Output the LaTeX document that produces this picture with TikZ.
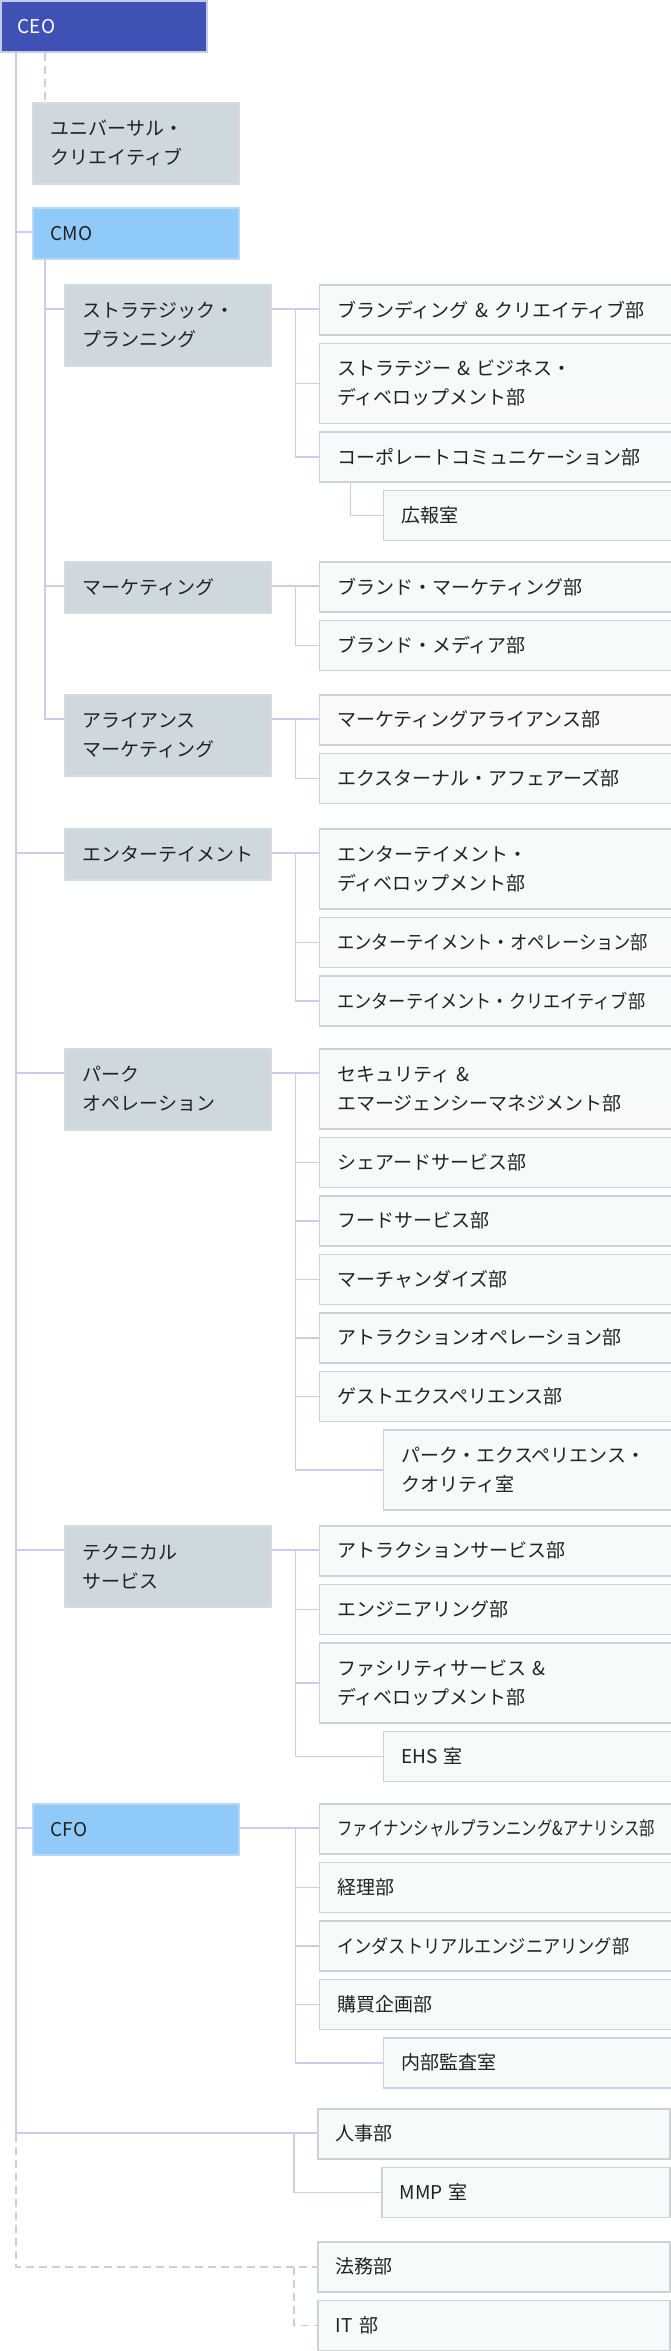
\documentclass[tikz,border=0pt]{standalone}
\usepackage{fontspec}
\usepackage{graphicx}
\setmainfont{Noto Sans CJK JP}
\usetikzlibrary{positioning}

\definecolor{ceoblue}{HTML}{3F51B5}
\definecolor{ceoedge}{HTML}{C5CAE9}
\definecolor{chiefblue}{HTML}{90CAF9}
\definecolor{chiefedge}{HTML}{B8D8F5}
\definecolor{unitgray}{HTML}{CFD8DC}
\definecolor{unitedge}{HTML}{D5DCDF}
\definecolor{deptfill}{HTML}{F8F9F9}
\definecolor{deptedge}{HTML}{CAD3D7}
\definecolor{wire}{HTML}{C9CCEA}
\definecolor{ink}{HTML}{222222}

% squeeze a long label to the given width
\newcommand\fitto[2]{\resizebox{#1}{\height}{#2}}

\begin{document}
\begin{tikzpicture}[x=1pt, y=-1pt]
    \tikzset{
        box/.style={anchor=north west, line width=1.5pt, inner xsep=18pt, inner ysep=0pt,
            align=left, text=ink, font=\fontsize{19}{29}\selectfont},
        ceobox/.style={box, fill=ceoblue, draw=ceoedge, text=white, inner xsep=17pt,
            text width=172pt, minimum height=51pt},
        chief/.style={box, fill=chiefblue, draw=chiefedge, text width=170pt, minimum height=51pt},
        unit/.style={box, fill=unitgray, draw=unitedge, text width=170pt, minimum height=51pt},
        unit2/.style={unit, minimum height=81pt},
        dept/.style={box, fill=deptfill, draw=deptedge, text width=316pt, minimum height=50pt},
        dept2/.style={dept, minimum height=80pt},
        office/.style={dept, text width=252pt},
        office2/.style={office, minimum height=80pt},
        stack/.style={below right=7pt and 0pt of #1.south west},
        sub/.style={below right=7pt and 64pt of #1.south west},
        link/.style={draw=wire, line width=1.5pt},
        duty/.style={link, dash pattern=on 8pt off 5pt}
    }
    \useasboundingbox (0,0) rectangle (670,2351);

    \node[ceobox] (ceo) at (0,0) {CEO};
    \node[unit2] (univ) at (32,102) {ユニバーサル・\\クリエイティブ};
    \node[chief] (cmo) at (32,207) {CMO};

    \node[unit2] (strat) at (64,284) {ストラテジック・\\プランニング};
    \node[dept] (brand) [below right=0pt and 47pt of strat.north east] {ブランディング \& クリエイティブ部};
    \node[dept2] (bizdev) [stack=brand] {ストラテジー \& ビジネス・\\ディベロップメント部};
    \node[dept] (corpcom) [stack=bizdev] {コーポレートコミュニケーション部};
    \node[office] (pr) [sub=corpcom] {広報室};

    \node[unit] (mkt) at (64,561) {マーケティング};
    \node[dept] (brandmkt) [below right=0pt and 47pt of mkt.north east] {ブランド・マーケティング部};
    \node[dept] (brandmedia) [stack=brandmkt] {ブランド・メディア部};

    \node[unit2] (ally) at (64,694) {アライアンス\\マーケティング};
    \node[dept] (mktally) [below right=0pt and 47pt of ally.north east] {マーケティングアライアンス部};
    \node[dept] (extaff) [stack=mktally] {エクスターナル・アフェアーズ部};

    \node[unit] (ent) at (64,828) {エンターテイメント};
    \node[dept2] (entdev) [below right=0pt and 47pt of ent.north east] {エンターテイメント・\\ディベロップメント部};
    \node[dept] (entops) [stack=entdev] {\fitto{311pt}{エンターテイメント・オペレーション部}};
    \node[dept] (entcre) [stack=entops] {\fitto{308pt}{エンターテイメント・クリエイティブ部}};

    \node[unit2] (park) at (64,1048) {パーク\\オペレーション};
    \node[dept2] (security) [below right=0pt and 47pt of park.north east] {セキュリティ \&\\エマージェンシーマネジメント部};
    \node[dept] (shared) [stack=security] {シェアードサービス部};
    \node[dept] (food) [stack=shared] {フードサービス部};
    \node[dept] (merch) [stack=food] {マーチャンダイズ部};
    \node[dept] (attrops) [stack=merch] {アトラクションオペレーション部};
    \node[dept] (guest) [stack=attrops] {ゲストエクスペリエンス部};
    \node[office2] (pxq) [sub=guest] {パーク・エクスペリエンス・\\クオリティ室};

    \node[unit2] (tech) at (64,1525) {テクニカル\\サービス};
    \node[dept] (attrsvc) [below right=0pt and 47pt of tech.north east] {アトラクションサービス部};
    \node[dept] (eng) [stack=attrsvc] {エンジニアリング部};
    \node[dept2] (facil) [stack=eng] {ファシリティサービス \&\\ディベロップメント部};
    \node[office] (ehs) [sub=facil] {EHS 室};

    \node[chief] (cfo) at (32,1803) {CFO};
    \node[dept] (fpa) [below right=0pt and 79pt of cfo.north east] {\fitto{318pt}{ファイナンシャルプランニング\&アナリシス部}};
    \node[dept] (acct) [stack=fpa] {経理部};
    \node[dept] (indeng) [stack=acct] {\fitto{292pt}{インダストリアルエンジニアリング部}};
    \node[dept] (purch) [stack=indeng] {購買企画部};
    \node[office] (audit) [sub=purch] {内部監査室};

    \node[dept] (hr) at (317,2108) {人事部};
    \node[office] (mmp) [sub=hr] {MMP 室};
    \node[dept] (legal) at (317,2241) {法務部};
    \node[dept] (it) [stack=legal] {IT 部};

    % trunk lines
    \coordinate (spine) at ([xshift=16pt]ceo.south west);
    \coordinate (cmotrunk) at ([xshift=13pt]cmo.south west);
    \draw[duty] ([xshift=45pt]ceo.south west) -- ([xshift=13pt]univ.north west);
    \foreach \p in {cmo, ent, park, tech, cfo, hr}
        \draw[link] (spine) |- ([yshift=-25pt]\p.north west);
    \draw[duty] (spine |- hr.west) |- (legal.west);
    \foreach \p in {strat, mkt, ally}
        \draw[link] (cmotrunk) |- ([yshift=-25pt]\p.north west);

    % unit to departments
    \foreach \p/\f/\kids in {strat/brand/{bizdev,corpcom}, mkt/brandmkt/{brandmedia}, ally/mktally/{extaff},
        ent/entdev/{entops,entcre}, park/security/{shared,food,merch,attrops,guest,pxq},
        tech/attrsvc/{eng,facil,ehs}, cfo/fpa/{acct,indeng,purch,audit}} {
        \draw[link] ([yshift=-25pt]\p.north east) -- ([yshift=-25pt]\f.north west);
        \foreach \k in \kids
            \draw[link] ([xshift=-23pt,yshift=-25pt]\f.north west) |- (\k.west);
    }
    \draw[link] ([xshift=32pt]corpcom.south west) |- (pr.west);
    \draw[link] ([xshift=-23pt]hr.west) |- (mmp.west);
    \draw[duty] ([xshift=-23pt]legal.west) |- (it.west);
\end{tikzpicture}
\end{document}
